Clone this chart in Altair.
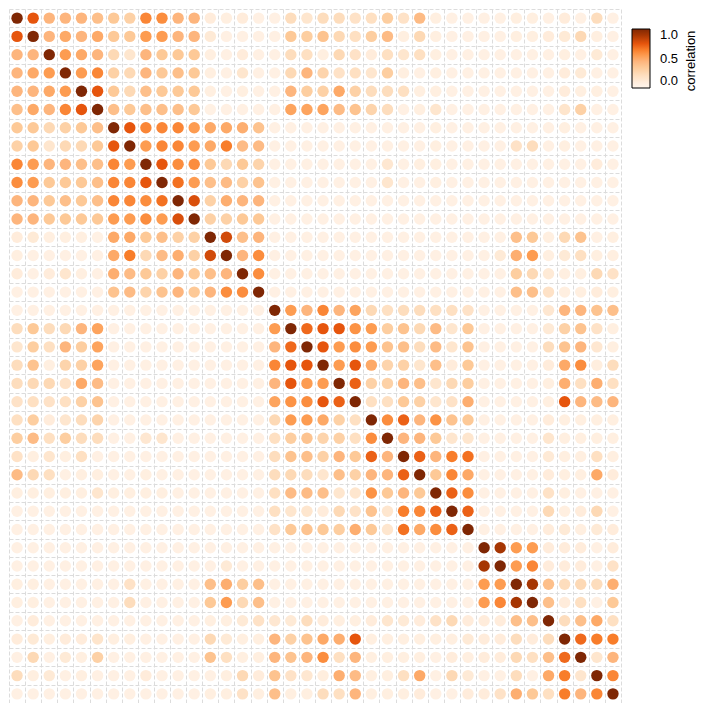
import altair as alt
import pandas as pd

# Lower triangle of the symmetric correlation matrix (row i holds columns 0..i)
lower = [
    [1],
    [.75, 1],
    [.45, .45, 1],
    [.45, .5, .55, 1],
    [.45, .45, .5, .55, 1],
    [.4, .5, .45, .62, .75, 1],
    [.35, .35, .25, .3, .35, .4, 1],
    [.3, .35, .15, .25, .25, .35, .75, 1],
    [.62, .55, .45, .45, .4, .4, .62, .55, 1],
    [.6, .55, .35, .35, .35, .4, .62, .62, .75, 1],
    [.45, .45, .35, .4, .35, .4, .62, .62, .6, .68, 1],
    [.45, .45, .35, .35, .35, .35, .55, .55, .6, .55, .78, 1],
    [.1, .12, .08, .08, .08, .06, .5, .5, .35, .4, .3, .3, 1],
    [.08, .07, .07, .07, .07, .07, .5, .65, .25, .42, .48, .3, .8, 1],
    [.1, .07, .1, .15, .08, .07, .48, .42, .35, .3, .45, .35, .4, .45, 1],
    [.07, .07, .07, .07, .07, .07, .38, .42, .28, .38, .45, .35, .45, .6, .6, 1],
    [.07, .07, .07, .07, .07, .07, .07, .07, .07, .07, .07, .07, .07, .07, .07, .07, 1],
    [.22, .35, .22, .25, .45, .52, .07, .07, .07, .07, .07, .07, .07, .07, .07, .07, .55, 1],
    [.15, .32, .2, .45, .32, .52, .07, .07, .07, .07, .07, .07, .07, .07, .07, .07, .45, .7, 1],
    [.22, .38, .08, .28, .3, .52, .07, .07, .07, .07, .07, .07, .07, .07, .07, .07, .62, .75, .75, 1],
    [.22, .25, .25, .18, .5, .42, .07, .07, .07, .07, .07, .07, .07, .07, .07, .07, .45, .75, .55, .55, 1],
    [.18, .2, .18, .2, .3, .38, .07, .07, .07, .07, .07, .07, .07, .07, .07, .07, .52, .58, .6, .75, .72, 1],
    [.2, .32, .1, .15, .22, .28, .07, .07, .07, .07, .07, .07, .07, .07, .07, .07, .25, .55, .55, .5, .3, .2, 1],
    [.32, .42, .2, .32, .22, .22, .07, .07, .14, .15, .07, .07, .07, .07, .07, .07, .2, .32, .38, .28, .3, .2, .6, 1],
    [.18, .08, .15, .08, .2, .07, .07, .07, .07, .07, .07, .07, .07, .07, .07, .07, .22, .38, .4, .3, .45, .35, .72, .45, 1],
    [.42, .25, .2, .07, .08, .08, .07, .07, .08, .07, .07, .07, .07, .07, .07, .07, .22, .25, .22, .15, .4, .3, .45, .45, .72, 1],
    [.08, .08, .08, .08, .08, .15, .08, .08, .08, .08, .07, .07, .07, .07, .07, .07, .2, .42, .42, .4, .15, .15, .58, .35, .45, .35, 1],
    [.07, .07, .07, .07, .07, .07, .07, .07, .07, .07, .07, .07, .07, .07, .07, .07, .2, .15, .15, .1, .25, .18, .38, .15, .65, .62, .72, 1],
    [.07, .07, .07, .07, .07, .07, .07, .07, .07, .07, .07, .07, .07, .07, .07, .07, .18, .35, .38, .35, .32, .48, .35, .15, .68, .5, .6, .72, 1],
    [.07, .07, .07, .07, .07, .07, .07, .07, .07, .07, .07, .07, .07, .07, .07, .07, .07, .07, .07, .07, .07, .07, .07, .07, .07, .07, .07, .07, .07, 1],
    [.07, .07, .07, .07, .07, .07, .07, .07, .07, .07, .07, .07, .07, .12, .07, .07, .07, .07, .07, .07, .07, .07, .07, .07, .07, .07, .07, .07, .07, .9, 1],
    [.08, .08, .07, .07, .07, .07, .07, .18, .07, .07, .07, .07, .4, .48, .32, .4, .07, .07, .07, .07, .07, .07, .07, .07, .07, .07, .07, .07, .07, .55, .55, 1],
    [.08, .08, .07, .07, .07, .07, .07, .22, .07, .07, .07, .07, .35, .55, .25, .4, .07, .07, .07, .07, .07, .07, .07, .07, .07, .07, .07, .07, .07, .55, .62, .9, 1],
    [.07, .1, .07, .07, .07, .07, .07, .07, .07, .07, .07, .07, .08, .08, .12, .18, .14, .12, .22, .1, .08, .08, .1, .15, .12, .1, .18, .25, .1, .1, .1, .4, .4, 1],
    [.1, .12, .08, .1, .1, .16, .08, .08, .07, .07, .07, .07, .25, .12, .08, .08, .45, .3, .38, .5, .48, .75, .08, .08, .08, .08, .08, .08, .12, .1, .1, .22, .1, .22, 1],
    [.07, .25, .07, .12, .08, .3, .07, .07, .07, .07, .07, .07, .38, .2, .08, .08, .45, .38, .45, .6, .2, .45, .08, .08, .08, .08, .07, .1, .08, .1, .1, .25, .2, .4, .7, 1],
    [.22, .08, .12, .07, .08, .07, .07, .07, .1, .07, .07, .07, .07, .08, .25, .1, .38, .18, .14, .09, .48, .42, .08, .08, .2, .5, .07, .25, .12, .07, .07, .22, .07, .5, .65, .15, 1],
    [.07, .07, .07, .07, .07, .07, .07, .07, .07, .07, .07, .07, .08, .08, .18, .08, .4, .08, .08, .22, .2, .45, .08, .08, .08, .1, .07, .07, .1, .1, .18, .48, .35, .2, .65, .45, .62, 1],
]

legend_values = [0.0, 0.5, 1.0]
legend_title = ["correlation"]
color_stops = [0, .07, .15, .25, .35, .45, .55, .65, .75, .9, 1]
color_range = ["#fff5eb", "#fff0e3", "#fee6ce", "#fdd9b5", "#fdc997", "#fdb57d",
               "#fd9c51", "#f87d2a", "#e6550d", "#a63603", "#7f2704"]

N = len(lower)
rows_, cols_, vals = [], [], []
for i in range(N):
    for j in range(N):
        a, b = (i, j) if j <= i else (j, i)
        rows_.append(i)
        cols_.append(j)
        vals.append(lower[a][b])
df = pd.DataFrame({"row": rows_, "col": cols_, "correlation": vals})

edges = [k - 0.5 for k in range(N + 1)]

grid_axis = dict(values=edges, labels=False, ticks=False, domain=False, grid=True,
                 title=None, gridColor="#dcdcdc", gridDash=[4, 2], gridWidth=1)

circles = alt.Chart(df).mark_circle(size=130, opacity=1).encode(
    x=alt.X("col:Q", scale=alt.Scale(domain=[-0.5, N - 0.5], nice=False, zero=False),
            axis=alt.Axis(**grid_axis)),
    y=alt.Y("row:Q", scale=alt.Scale(domain=[-0.5, N - 0.5], nice=False, zero=False, reverse=True),
            axis=alt.Axis(**grid_axis)),
    color=alt.Color(
        "correlation:Q",
        scale=alt.Scale(domain=color_stops, range=color_range, interpolate="rgb"),
        legend=alt.Legend(
            title=None, orient="none", legendX=623, legendY=20, direction="vertical",
            gradientLength=59, gradientThickness=18, values=legend_values, format=".1f",
            labelFontSize=13, labelFont="Liberation Sans", labelColor="black",
            labelOffset=10, labelBaseline="middle",
            gradientStrokeColor="black", gradientStrokeWidth=1, padding=0,
        ),
    ),
)

title_text = alt.Chart(pd.DataFrame({"t": legend_title})).mark_text(
    angle=270, fontSize=13, font="Liberation Sans", color="black",
    align="center", baseline="middle",
).encode(x=alt.value(682), y=alt.value(52), text="t:N")

chart = alt.layer(circles, title_text).properties(
    width=612, height=694,
    padding={"left": 9, "top": 9, "right": 0, "bottom": 0},
).configure_view(stroke=None)

chart.save("out.html", embed_options={"renderer": "svg", "actions": False})
